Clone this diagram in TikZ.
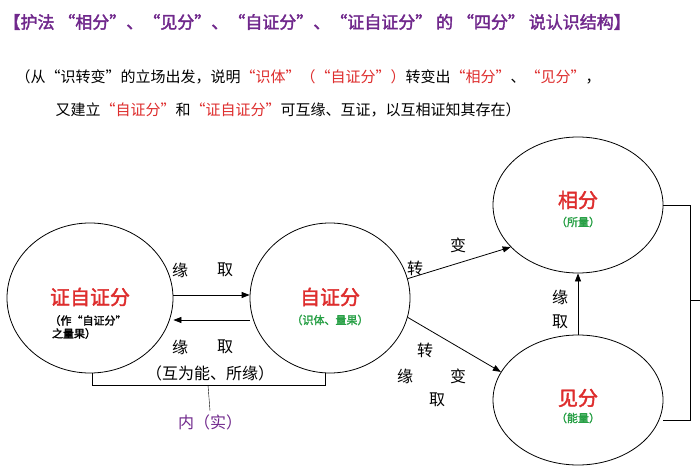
\documentclass[tikz,border=0pt]{standalone}
\usepackage{fontspec}
\usepackage{xcolor}
\setmainfont{Noto Sans CJK SC}[AutoFakeBold=2]
\usetikzlibrary{shapes.geometric,arrows.meta}
\definecolor{hong}{RGB}{222,45,45}
\definecolor{lv}{RGB}{40,160,70}
\definecolor{zi}{RGB}{112,40,140}
\tikzset{
    fen/.style={ellipse,draw=black,thick,minimum width=166pt,minimum height=150pt,inner sep=0pt},
    ming/.style={text=hong,font=\fontsize{20}{22}\selectfont\bfseries},
    zhu/.style={font=\fontsize{11}{13}\selectfont\bfseries},
    bq/.style={font=\fontsize{16}{18}\selectfont},
    arr/.style={-{Triangle[length=8pt,width=6pt]},thick}
}
\begin{document}
\begin{tikzpicture}[x=1pt,y=-1pt]
    \useasboundingbox[fill=white] (0,0) rectangle (700,470);
    % title
    \node[anchor=west,text=zi,font=\fontsize{17}{19}\selectfont\bfseries] (biaoti) at (0,22) {【护法 “相分”、“见分”、“自证分”、“证自证分” 的 “四分” 说认识结构】};
    \node[anchor=west,font=\fontsize{15}{17}\selectfont] (shuoming1) at (12,77) {（从“识转变”的立场出发，说明\textcolor{hong}{“识体”（“自证分”）}转变出\textcolor{hong}{“相分”}、\textcolor{hong}{“见分”}，};
    \node[anchor=west,font=\fontsize{15}{17}\selectfont] (shuoming2) at (52,110) {又建立\textcolor{hong}{“自证分”}和\textcolor{hong}{“证自证分”}可互缘、互证，以互相证知其存在）};
    % four ellipses
    \node[fen] (zzz) at (90,298) {};
    \node[fen,minimum width=160pt] (zz) at (330,298) {};
    \node[fen,minimum width=170pt,minimum height=136pt] (xf) at (578,205) {};
    \node[fen,minimum width=170pt,minimum height=130pt] (jf) at (578,400) {};
    \node[ming] (zzzt) at (90,297) {证自证分};
    \node[zhu,align=left] (zzzs) at (88,327) {（作“自证分”\\\ 之量果）};
    \node[ming] (zzt) at (330,297) {自证分};
    \node[zhu,text=lv] (zzs) at (330,320) {（识体、量果）};
    \node[ming] (xft) at (578,200) {相分};
    \node[zhu,text=lv] (xfs) at (578,222) {（所量）};
    \node[ming] (jft) at (578,398) {见分};
    \node[zhu,text=lv] (jfs) at (578,418) {（能量）};
    % arrows
    \draw[arr] ([yshift=3pt]zzz.east) -- ([yshift=3pt]zz.west);
    \draw[arr] ([yshift=-22pt]zz.west) -- ([yshift=-22pt]zzz.east);
    \draw[arr] (zz.14) -- (xf.212);
    \draw[arr] (zz.-14) -- (jf.160);
    \draw[arr] (jf.north) -- (xf.south);
    \node[bq] (y1) at (180,270) {缘};
    \node[bq] (q1) at (225,270) {取};
    \node[bq] (y2) at (180,347) {缘};
    \node[bq] (q2) at (225,347) {取};
    \node[bq] (z1) at (415,268) {转};
    \node[bq] (b1) at (458,245) {变};
    \node[bq] (z2) at (425,350) {转};
    \node[bq] (y3) at (405,376) {缘};
    \node[bq] (b2) at (458,376) {变};
    \node[bq] (q3) at (437,400) {取};
    \node[bq] (y4) at (560,297) {缘};
    \node[bq] (q4) at (560,322) {取};
    % brackets
    \coordinate (kz1) at (92,385);
    \coordinate (kz2) at (325,385);
    \coordinate (kzm) at (208,385);
    \draw (zzz.south -| kz1) -- (kz1) -- (kz2) -- (zz.south -| kz2);
    \node[bq] (hw) at (210,373) {（互为能、所缘）};
    \node[bq,text=zi] (nei) at (210,422) {内（实）};
    \draw (kzm) -- (nei.north);
    \coordinate (ky1) at (690,205);
    \coordinate (ky2) at (690,420);
    \draw (xf.east |- ky1) -- (ky1) -- (ky2) -- (jf.east |- ky2);
    \draw (690,300) -- (700,300);
\end{tikzpicture}
\end{document}
